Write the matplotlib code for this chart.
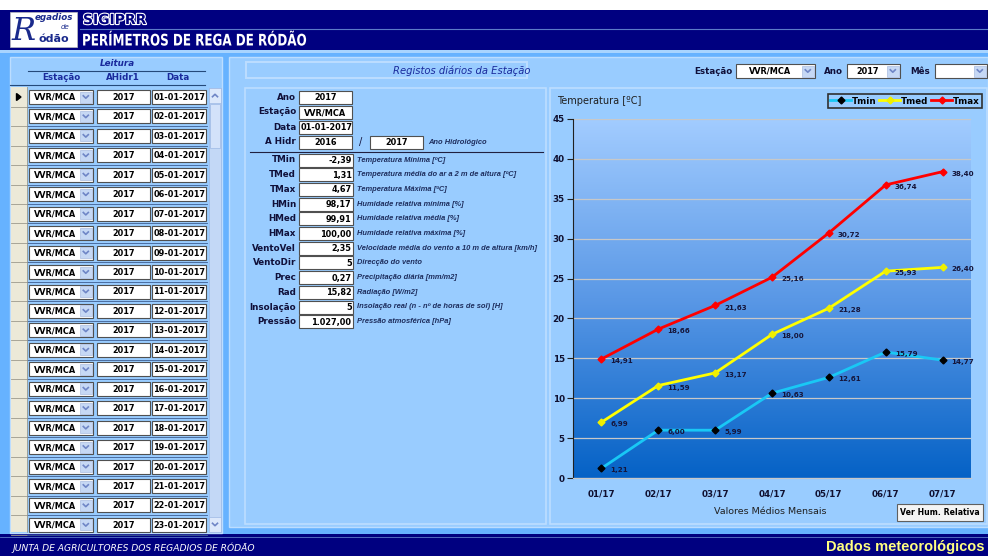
import matplotlib
matplotlib.use("Agg")
import matplotlib.pyplot as plt
from matplotlib.patches import Rectangle, PathPatch
from matplotlib.lines import Line2D
from matplotlib.colors import LinearSegmentedColormap
from matplotlib.textpath import TextPath
from matplotlib.font_manager import FontProperties
from matplotlib.transforms import Affine2D
import matplotlib.patheffects as pe
import numpy as np

# dados do gráfico (valores médios mensais)
meses = ["01/17", "02/17", "03/17", "04/17", "05/17", "06/17", "07/17"]
tmin = [1.21, 6.00, 5.99, 10.63, 12.61, 15.79, 14.77]
tmed = [6.99, 11.59, 13.17, 18.00, 21.28, 25.93, 26.40]
tmax = [14.91, 18.66, 21.63, 25.16, 30.72, 36.74, 38.40]

# registos da lista da esquerda
estacao = "VVR/MCA"
ano = "2017"
datas = ["01-01-2017", "02-01-2017", "03-01-2017", "04-01-2017", "05-01-2017",
         "06-01-2017", "07-01-2017", "08-01-2017", "09-01-2017", "10-01-2017",
         "11-01-2017", "12-01-2017", "13-01-2017", "14-01-2017", "15-01-2017",
         "16-01-2017", "17-01-2017", "18-01-2017", "19-01-2017", "20-01-2017",
         "21-01-2017", "22-01-2017", "23-01-2017"]

# campos do formulário
campos = ["TMin", "TMed", "TMax", "HMin", "HMed", "HMax", "VentoVel", "VentoDir",
          "Prec", "Rad", "Insolação", "Pressão"]
valores = ["-2,39", "1,31", "4,67", "98,17", "99,91", "100,00", "2,35", "5",
           "0,27", "15,82", "5", "1.027,00"]
descricoes = ["Temperatura Mínima [ºC]",
              "Temperatura média do ar a 2 m de altura [ºC]",
              "Temperatura Máxima [ºC]",
              "Humidade relativa mínima [%]",
              "Humidade relativa média [%]",
              "Humidade relativa máxima [%]",
              "Velocidade média do vento a 10 m de altura [km/h]",
              "Direcção do vento",
              "Precipitação diária [mm/m2]",
              "Radiação [W/m2]",
              "Insolação real (n - nº de horas de sol) [H]",
              "Pressão atmosférica [hPa]"]

NAVY = "#000080"
FUNDO = "#66B2FF"
PAINEL = "#99CCFF"
BORDA = "#BCDDFF"
TXT = "#10103A"
FS = 5.9  # texto das caixas

fig = plt.figure(figsize=(9.88, 5.56), dpi=100)
fig.patch.set_facecolor(FUNDO)
ui = fig.add_axes([0, 0, 1, 1], zorder=0)
ui.set_xlim(0, 988)
ui.set_ylim(556, 0)
ui.axis("off")


def caixa(x, y, w, h, fc="white", ec="#505050", lw=0.8, z=2):
    ui.add_patch(Rectangle((x, y), w, h, facecolor=fc, edgecolor=ec, linewidth=lw, zorder=z))


def seta(cx, cy, cima=False, cor="#6F86C6"):
    s = -1 if cima else 1
    ui.add_line(Line2D([cx - 2.5, cx, cx + 2.5], [cy - 1.2 * s, cy + 1.2 * s, cy - 1.2 * s],
                       color=cor, lw=1.2, zorder=4))


def combo(x, y, w, h, txt, fs=FS):
    caixa(x, y, w, h)
    caixa(x + w - 13, y + 1.5, 11.5, h - 3, fc="#C6D8F4", ec="#A9BCE0", lw=0.5, z=3)
    seta(x + w - 7.2, y + h / 2)
    ui.text(x + (w - 13) / 2 + 1, y + h / 2 + 0.5, txt, ha="center", va="center",
            fontsize=fs, fontweight="bold", color="black", zorder=4)


def texto_estreito(x, base, s, size, largura, cor):
    # texto condensado para caber numa largura dada (letra tipo Impact do cabeçalho)
    tp = TextPath((0, 0), s, size=size, prop=FontProperties(family="DejaVu Sans", weight="bold"))
    ext = tp.get_extents()
    k = 100 / 72
    sx = largura / (ext.width * k)
    tr = Affine2D().scale(sx * k, -k).translate(x, base) + ui.transData
    ui.add_patch(PathPatch(tp, facecolor=cor, edgecolor="none", transform=tr, zorder=4))


# cabeçalho
ui.add_patch(Rectangle((0, 0), 988, 10, facecolor="white", zorder=1))
ui.add_patch(Rectangle((0, 10), 988, 40, facecolor=NAVY, zorder=1))
ui.add_line(Line2D([80, 988], [28.5, 28.5], color="#5C7CC8", lw=0.8, zorder=2))
ui.add_patch(Rectangle((0, 50), 988, 3, facecolor="#A8D4FF", zorder=1))
caixa(10, 12, 67, 35, fc="white", ec="#C0C0C0", lw=0.5)
ui.text(11, 31.5, "R", fontsize=23, family="DejaVu Serif", style="italic", color="#1A2A8C",
        va="center", ha="left", zorder=4)
ui.text(35, 18, "egadios", fontsize=6.3, style="italic", fontweight="bold", color="#1A2A8C",
        va="center", ha="left", zorder=4)
ui.text(61, 27, "de", fontsize=5, style="italic", color="#1A2A8C", va="center", ha="left", zorder=4)
ui.text(38, 39.5, "ódão", fontsize=8, fontweight="bold", color="#1A2A8C", va="center", ha="left", zorder=4)
ui.text(83, 20, "SIGIPRR", fontsize=10, fontweight="bold", color=NAVY, va="center", ha="left", zorder=4,
        path_effects=[pe.withStroke(linewidth=1.6, foreground="white")])
texto_estreito(82, 45.5, "PERÍMETROS DE REGA DE RÓDÃO", 11.5, 223, "white")

# rodapé
ui.add_patch(Rectangle((0, 534), 988, 22, facecolor=NAVY, zorder=1))
ui.add_line(Line2D([0, 988], [536.5, 536.5], color="#5C7CC8", lw=0.6, zorder=2))
ui.text(12, 548, "JUNTA DE AGRICULTORES DOS REGADIOS DE RÓDÃO", fontsize=6.6, style="italic",
        color="white", va="center", ha="left", zorder=4)
ui.text(984, 547.5, "Dados meteorológicos", fontsize=10.5, fontweight="bold", color="#FFFF80",
        family="Liberation Sans", va="center", ha="right", zorder=4)

# painel da esquerda (lista de leituras)
caixa(10, 57, 212, 476, fc=PAINEL, ec=BORDA, lw=1, z=1)
ui.text(117, 63, "Leitura", fontsize=6.3, fontweight="bold", style="italic", color="#1A2A9C",
        ha="center", va="center", zorder=4)
ui.add_line(Line2D([28, 205], [70.5, 70.5], color="#24497A", lw=0.8, zorder=3))
for tx, xx in [("Estação", 61), ("AHidr1", 123), ("Data", 178)]:
    ui.text(xx, 77, tx, fontsize=6.3, fontweight="bold", color="#1A2A9C", ha="center", va="center", zorder=4)
ui.add_line(Line2D([10, 205], [84.5, 84.5], color="#24497A", lw=0.8, zorder=3))
ui.add_patch(Rectangle((11, 87), 16, 445, facecolor="#ECE9D8", edgecolor="none", zorder=2))
passo = 19.45
for i, d in enumerate(datas):
    cy = 97 + i * passo
    ui.add_line(Line2D([11, 27], [cy + passo / 2, cy + passo / 2], color="#9C9A8C", lw=0.6, zorder=3))
    ui.add_line(Line2D([27, 207], [cy + passo / 2, cy + passo / 2], color="#3D5E91", lw=0.6, zorder=3))
    combo(29, cy - 7, 64, 14, estacao)
    caixa(97, cy - 7, 53, 14)
    ui.text(123.5, cy + 0.5, ano, fontsize=FS, fontweight="bold", ha="center", va="center", zorder=4)
    caixa(152, cy - 7, 54, 14)
    ui.text(153.5, cy + 0.5, d, fontsize=FS, fontweight="bold", ha="left", va="center", zorder=4)
ui.add_line(Line2D([27, 27], [87, 532], color="#9C9A8C", lw=0.6, zorder=3))
ui.add_patch(plt.Polygon([[16.5, 93.5], [16.5, 100.5], [21, 97]], closed=True, color="black", zorder=4))
# barra de deslocamento
caixa(209, 88, 12, 444, fc="#C3D8F6", ec="#9DB8E4", lw=0.5)
caixa(209, 88, 12, 15, fc="#DCE8FB", ec="#9DB8E4", lw=0.5, z=3)
seta(215, 95.5, cima=True)
caixa(210, 104, 10, 44, fc="#D3E2FA", ec="#9DB8E4", lw=0.5, z=3)
caixa(209, 517, 12, 15, fc="#DCE8FB", ec="#9DB8E4", lw=0.5, z=3)
seta(215, 524.5)

# painel da direita
caixa(229, 57, 759, 470, fc=PAINEL, ec=BORDA, lw=1, z=1)
caixa(246, 62, 281, 16, fc=PAINEL, ec=BORDA, lw=1.4)
ui.text(462, 70.5, "Registos diários da Estação", fontsize=7.2, style="italic", color="#1A2A9C",
        ha="center", va="center", zorder=4)
ui.text(732, 71, "Estação", fontsize=6.3, fontweight="bold", color=TXT, ha="right", va="center", zorder=4)
combo(736, 64, 79, 14, estacao)
ui.text(843, 71, "Ano", fontsize=6.3, fontweight="bold", color=TXT, ha="right", va="center", zorder=4)
combo(847, 64, 53, 14, ano)
ui.text(930, 71, "Mês", fontsize=6.3, fontweight="bold", color=TXT, ha="right", va="center", zorder=4)
combo(935, 64, 52, 14, "")

# formulário
caixa(245, 88, 301, 436, fc=PAINEL, ec=BORDA, lw=1.2, z=1)
topo = [("Ano", ano, "center"), ("Estação", estacao, "center"), ("Data", "01-01-2017", "left")]
for i, (lab, val, al) in enumerate(topo):
    cy = 97 + i * 15
    ui.text(296, cy, lab, fontsize=6.3, fontweight="bold", color=TXT, ha="right", va="center", zorder=4)
    caixa(299, cy - 6.5, 53, 13)
    ui.text(325.5 if al == "center" else 300.5, cy + 0.5, val, fontsize=FS, fontweight="bold",
            ha=al, va="center", zorder=4)
cy = 142
ui.text(296, cy, "A Hidr", fontsize=6.3, fontweight="bold", color=TXT, ha="right", va="center", zorder=4)
caixa(299, cy - 6.5, 53, 13)
ui.text(325.5, cy + 0.5, "2016", fontsize=FS, fontweight="bold", ha="center", va="center", zorder=4)
ui.text(361, cy, "/", fontsize=7, color=TXT, ha="center", va="center", zorder=4)
caixa(370, cy - 6.5, 53, 13)
ui.text(396.5, cy + 0.5, "2017", fontsize=FS, fontweight="bold", ha="center", va="center", zorder=4)
ui.text(428, cy, "Ano Hidrológico", fontsize=5.4, fontweight="bold", style="italic", color="#1E2E5E",
        family="Liberation Sans", ha="left", va="center", zorder=4)
ui.add_line(Line2D([250, 543], [151.5, 151.5], color="#202040", lw=0.8, zorder=3))
for i, (c, v, d) in enumerate(zip(campos, valores, descricoes)):
    cy = 160 + i * 14.7
    ui.text(296, cy, c, fontsize=6.3, fontweight="bold", color=TXT, ha="right", va="center", zorder=4)
    caixa(299, cy - 6.5, 54, 13)
    ui.text(351.5, cy + 0.5, v, fontsize=FS, fontweight="bold", ha="right", va="center", zorder=4)
    ui.text(357, cy, d, fontsize=5.4, fontweight="bold", style="italic", color="#1E2E5E",
            family="Liberation Sans", ha="left", va="center", zorder=4)

# painel do gráfico
caixa(550, 88, 437, 436, fc=PAINEL, ec=BORDA, lw=1.2, z=1)
ui.text(557, 101, "Temperatura [ºC]", fontsize=7, color="#202020", ha="left", va="center", zorder=4)
ui.text(770, 512, "Valores Médios Mensais", fontsize=6.8, color="#202020", ha="center", va="center", zorder=4)
caixa(897, 504, 86, 17, fc="#F4F4F4", ec="#606060", lw=0.8)
ui.text(940, 512.5, "Ver Hum. Relativa", fontsize=5.6, fontweight="bold", color="black",
        ha="center", va="center", zorder=4)

ax = fig.add_axes([573 / 988, 1 - 478 / 556, 398 / 988, 359 / 556], zorder=2)
ax.patch.set_alpha(0)
grad = np.linspace(0, 1, 256).reshape(-1, 1)
cmap = LinearSegmentedColormap.from_list("fundo", ["#0562C6", "#5A98E6", "#A2CCFF"])
ax.imshow(grad, cmap=cmap, origin="lower", extent=[0, 1, 0, 1], transform=ax.transAxes,
          aspect="auto", zorder=0)
x = np.arange(len(meses))
ax.set_xlim(-0.5, len(meses) - 0.5)
ax.set_ylim(0, 45)
ax.set_yticks(range(0, 46, 5))
ax.set_xticks(x)
ax.set_xticklabels(meses)
ax.grid(axis="y", color="#C8C8C8", lw=0.9, zorder=1)
ax.set_axisbelow(True)
for s in ["top", "right"]:
    ax.spines[s].set_visible(False)
ax.spines["left"].set_color("#202020")
ax.spines["bottom"].set_color("#C8C8C8")
ax.tick_params(axis="y", length=4, width=0.8, color="#202020", labelsize=6.3, pad=2)
ax.tick_params(axis="x", length=0, labelsize=6.3, pad=8)
for lab in ax.get_xticklabels() + ax.get_yticklabels():
    lab.set_fontweight("bold")
    lab.set_color("#101030")

series = [("Tmin", tmin, "#19C8F5", "black"),
          ("Tmed", tmed, "#FFFF00", "#F0F000"),
          ("Tmax", tmax, "#FF0000", "#FF0000")]
handles = []
for nome, vals, cor, mcor in series:
    ln, = ax.plot(x, vals, color=cor, lw=2, marker="D", ms=3.5, mfc=mcor, mec=mcor, zorder=3,
                  clip_on=False, label=nome)
    handles.append(ln)
    for xi, v in zip(x, vals):
        ax.annotate(f"{v:.2f}".replace(".", ","), (xi, v), xytext=(6.5, -1.5), textcoords="offset points",
                    fontsize=5.1, fontweight="bold", color="#15153A", ha="left", va="center", zorder=4)

leg = ax.legend(handles=handles, loc="center", bbox_to_anchor=(905 / 988, 1 - 101 / 556),
                bbox_transform=fig.transFigure, ncol=3, frameon=True, fancybox=False,
                edgecolor="#303030", facecolor=PAINEL, framealpha=1, handlelength=2.4,
                handletextpad=0.1, columnspacing=0.3, borderpad=0.3, prop={"size": 6.3, "weight": "bold"})
leg.get_frame().set_linewidth(1.2)

fig.savefig("out.png", dpi=100, facecolor=fig.get_facecolor())
